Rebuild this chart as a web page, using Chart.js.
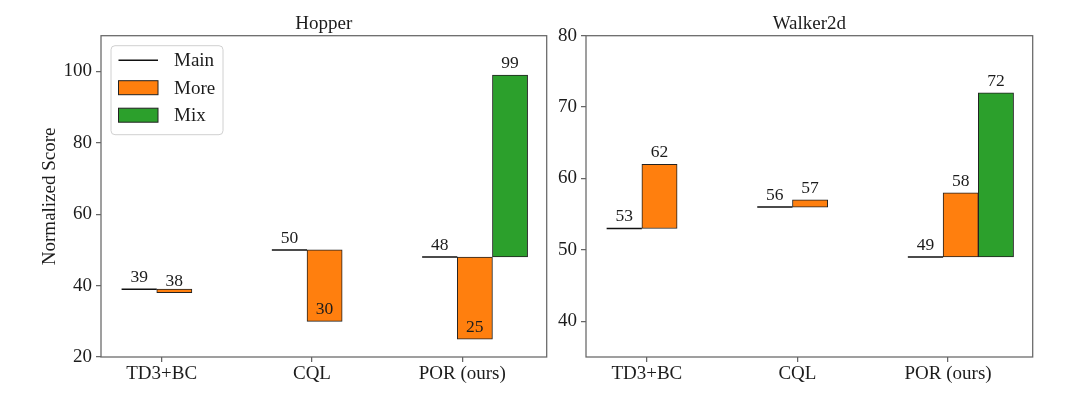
<!DOCTYPE html>
<html>
<head>
<meta charset="utf-8">
<script src="https://cdn.jsdelivr.net/npm/chart.js@4.4.0/dist/chart.umd.min.js"></script>
<style>
  body { margin: 0; background: #fff; }
  #wrap { position: relative; width: 1080px; height: 393px; }
  canvas { position: absolute; top: 0; }
</style>
</head>
<body>
<div id="wrap">
  <canvas id="hopper" width="550" height="393" style="left:0px"></canvas>
  <canvas id="walker" width="530" height="393" style="left:550px"></canvas>
</div>
<script>
const categories = ["TD3+BC", "CQL", "POR (ours)"];

const hopperMain = [39, 50, 48];
const hopperMore = [38, 30, 25];
const hopperMix = [null, null, 99];

const walkerMain = [53, 56, 49];
const walkerMore = [62, 57, 58];
const walkerMix = [null, null, 72];

const hopperTicks = { min: 20, max: 110, step: 20 };
const walkerTicks = { min: 35, max: 80, step: 10 };

// bar layout (in category units), like matplotlib x + offset
const W = 0.234;
const MAIN_OFF = -0.15;
const MORE_OFF = MAIN_OFF + W;
const MIX_OFF = MAIN_OFF + 2 * W;
const XMIN = -0.404, XMAX = 2.562;

const FONT = "'Liberation Serif', 'DejaVu Serif', serif";
const TEXT = "#1c1c1c";
const FRAME = "#666";
const ORANGE = "#ff7f0e";
const GREEN = "#2ca02c";
const EDGE = "#222";

Chart.defaults.font.family = FONT;
Chart.defaults.color = TEXT;

function mainSegments(main) {
  const pts = [];
  main.forEach((v, i) => {
    pts.push({ x: i + MAIN_OFF - W / 2, y: v });
    pts.push({ x: i + MAIN_OFF + W / 2, y: v });
    pts.push({ x: i + 0.5, y: null });
  });
  return pts;
}

function floating(main, vals, off) {
  const pts = [];
  vals.forEach((v, i) => {
    if (v != null) pts.push({ x: i + off, y: [main[i], v] });
  });
  return pts;
}

const framePlugin = {
  id: "frame",
  afterDraw(chart) {
    const { ctx, chartArea: a } = chart;
    ctx.save();
    ctx.strokeStyle = FRAME;
    ctx.lineWidth = 1.25;
    ctx.strokeRect(a.left, a.top, a.right - a.left, a.bottom - a.top);
    ctx.restore();
  },
};

function titlePlugin(text) {
  return {
    id: "panelTitle",
    afterDraw(chart) {
      const { ctx, chartArea: a } = chart;
      ctx.save();
      ctx.font = "19px " + FONT;
      ctx.fillStyle = TEXT;
      ctx.textAlign = "center";
      ctx.textBaseline = "alphabetic";
      ctx.fillText(text, (a.left + a.right) / 2, a.top - 7);
      ctx.restore();
    },
  };
}

function labelPlugin(main, more, mix) {
  return {
    id: "valueLabels",
    afterDatasetsDraw(chart) {
      const { ctx, scales: { x, y } } = chart;
      ctx.save();
      ctx.font = "17.5px " + FONT;
      ctx.fillStyle = TEXT;
      ctx.textAlign = "center";
      ctx.textBaseline = "alphabetic";
      const put = (xv, v) =>
        ctx.fillText(String(v), x.getPixelForValue(xv), y.getPixelForValue(v) - 7);
      categories.forEach((c, i) => {
        put(i + MAIN_OFF, main[i]);
        put(i + MORE_OFF, more[i]);
        if (mix[i] != null) put(i + MIX_OFF, mix[i]);
      });
      ctx.restore();
    },
  };
}

const legendPlugin = {
  id: "legendBox",
  afterDraw(chart) {
    const { ctx, chartArea: a } = chart;
    const bx = a.left + 10, by = a.top + 10, bw = 112, bh = 89;
    ctx.save();
    ctx.beginPath();
    ctx.roundRect(bx, by, bw, bh, 4);
    ctx.fillStyle = "rgba(255,255,255,0.8)";
    ctx.fill();
    ctx.strokeStyle = "#d0d0d0";
    ctx.lineWidth = 1;
    ctx.stroke();
    ctx.font = "19px " + FONT;
    ctx.textAlign = "left";
    ctx.textBaseline = "middle";
    const rows = [24.5, 52, 79.5];
    chart.data.datasets.forEach((ds, k) => {
      const cy = by - 10 + rows[k];
      const hx = bx + 7.5, hw = 39.5;
      if (ds.type === "line") {
        ctx.strokeStyle = ds.borderColor;
        ctx.lineWidth = 1.5;
        ctx.beginPath();
        ctx.moveTo(hx, cy);
        ctx.lineTo(hx + hw, cy);
        ctx.stroke();
      } else {
        ctx.fillStyle = ds.backgroundColor;
        ctx.fillRect(hx, cy - 7, hw, 14);
        ctx.strokeStyle = ds.borderColor;
        ctx.lineWidth = 1;
        ctx.strokeRect(hx, cy - 7, hw, 14);
      }
      ctx.fillStyle = TEXT;
      ctx.fillText(ds.label, bx + 63, cy + 1);
    });
    ctx.restore();
  },
};

function makeChart(id, cfg) {
  const plugins = [framePlugin, titlePlugin(cfg.title), labelPlugin(cfg.main, cfg.more, cfg.mix)];
  if (cfg.legend) plugins.push(legendPlugin);

  return new Chart(document.getElementById(id), {
    type: "bar",
    data: {
      datasets: [
        {
          type: "line",
          label: "Main",
          data: mainSegments(cfg.main),
          borderColor: "#111",
          borderWidth: 1.5,
          pointRadius: 0,
          spanGaps: false,
          order: 0,
        },
        {
          label: "More",
          data: floating(cfg.main, cfg.more, MORE_OFF),
          backgroundColor: ORANGE,
          borderColor: EDGE,
          borderWidth: 1,
          borderSkipped: false,
          grouped: false,
          barPercentage: 1,
          categoryPercentage: 1,
          order: 1,
        },
        {
          label: "Mix",
          data: floating(cfg.main, cfg.mix, MIX_OFF),
          backgroundColor: GREEN,
          borderColor: EDGE,
          borderWidth: 1,
          borderSkipped: false,
          grouped: false,
          barPercentage: 1,
          categoryPercentage: 1,
          order: 2,
        },
      ],
    },
    options: {
      responsive: false,
      animation: false,
      layout: { padding: { left: 0, right: cfg.padRight, top: 35.7, bottom: 0 } },
      plugins: {
        legend: { display: false },
        tooltip: { enabled: false },
      },
      scales: {
        x: {
          type: "linear",
          min: XMIN,
          max: XMAX,
          offset: false,
          afterBuildTicks: (s) => {
            s.ticks = categories.map((c, i) => ({ value: i }));
          },
          afterFit: (s) => {
            s.height = 36;
          },
          ticks: {
            autoSkip: false,
            maxRotation: 0,
            padding: 1,
            font: { size: 19 },
            color: TEXT,
            callback: (v) => categories[v],
          },
          grid: { offset: false, drawOnChartArea: false, drawTicks: true, tickLength: 5, color: FRAME, lineWidth: 1.25 },
          border: { display: false },
        },
        y: {
          min: cfg.ticks.min,
          max: cfg.ticks.max,
          afterFit: (s) => {
            s.width = cfg.yWidth;
          },
          ticks: {
            stepSize: cfg.ticks.step,
            includeBounds: false,
            padding: 4,
            font: { size: 19 },
            color: TEXT,
          },
          title: {
            display: !!cfg.yTitle,
            text: cfg.yTitle || "",
            font: { size: 19 },
            color: TEXT,
            padding: { top: 38.6, bottom: 0 },
          },
          grid: { drawOnChartArea: false, drawTicks: true, tickLength: 5, color: FRAME, lineWidth: 1.25 },
          border: { display: false },
        },
      },
    },
    plugins,
  });
}

makeChart("hopper", {
  title: "Hopper",
  yTitle: "Normalized Score",
  main: hopperMain,
  more: hopperMore,
  mix: hopperMix,
  ticks: hopperTicks,
  yWidth: 101,
  padRight: 3.3,
  legend: true,
});

makeChart("walker", {
  title: "Walker2d",
  main: walkerMain,
  more: walkerMore,
  mix: walkerMix,
  ticks: walkerTicks,
  yWidth: 36,
  padRight: 47.3,
  legend: false,
});
</script>
</body>
</html>
